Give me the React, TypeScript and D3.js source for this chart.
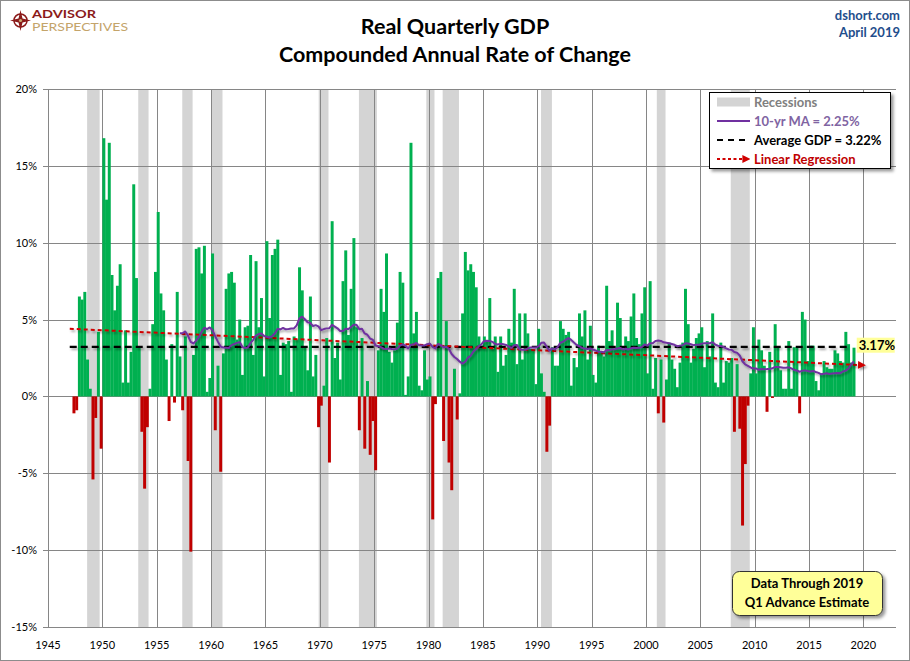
import { useEffect, useRef } from 'react';
import * as d3 from 'd3';

// Real GDP, % change at compounded annual rate, quarterly from 1947 Q2 to 2019 Q1
const gdp1940s = [-1.1, -0.9, 6.5, 6.3, 6.8, 2.4, 0.5, -5.4, -1.4, 4.2, -3.4];
const gdp1950s = [
  16.8, 12.8, 16.5, 7.9, 5.6, 7.2, 8.6, 0.9, 4.3, 0.9, 2.9, 13.8,
  7.7, 3.2, -2.3, -6.0, -2.0, 0.5, 4.7, 8.1, 12.0, 6.7, 5.6, 2.4,
  -1.6, 3.4, -0.4, 6.8, 2.6, -0.9, 3.9, -4.2, -10.1, 2.7, 9.6, 9.7,
  8.0, 9.8, 0.3, 1.2,
];
const gdp1960s = [
  9.3, -2.2, 2.0, -4.9, 2.8, 7.0, 8.0, 8.1, 7.4, 3.7, 5.0, 1.4,
  4.5, 4.6, 9.2, 2.7, 8.8, 4.5, 6.4, 1.3, 10.1, 5.1, 9.2, 9.6,
  10.2, 1.4, 3.5, 3.4, 3.6, 0.3, 3.9, 3.7, 8.4, 6.9, 3.2, 1.7,
  6.5, 1.3, 2.7, -2.0,
];
const gdp1970s = [
  -0.6, 0.7, 3.8, -4.3, 11.4, 2.5, 3.5, 1.1, 7.5, 9.5, 4.0, 7.0,
  10.3, 4.5, -2.2, 3.8, -3.4, 1.0, -3.8, -1.6, -4.8, 3.0, 7.0, 5.5,
  9.3, 2.9, 2.2, 3.0, 4.8, 8.1, 7.4, 0.1, 1.3, 16.5, 4.1, 5.5,
  0.7, 0.4, 3.0, 1.1,
];
const gdp1980s = [
  1.3, -8.0, -0.5, 7.7, 8.1, -2.9, 4.9, -4.3, -6.1, 1.8, -1.5, 0.2,
  5.4, 9.4, 8.2, 8.6, 8.1, 7.1, 3.9, 3.3, 3.9, 3.6, 6.4, 3.1,
  3.9, 1.6, 3.9, 2.0, 2.7, 4.4, 3.5, 7.0, 2.1, 5.4, 2.4, 5.4,
  4.1, 3.1, 3.0, 0.8,
];
const gdp1990s = [
  4.4, 1.5, 0.3, -3.6, -1.9, 3.2, 2.0, 2.0, 4.9, 4.4, 4.0, 4.2,
  0.7, 2.5, 1.9, 5.4, 3.9, 5.6, 2.4, 4.6, 1.4, 0.9, 3.3, 2.9,
  2.6, 7.2, 3.6, 4.3, 3.1, 6.1, 5.1, 3.1, 3.9, 3.6, 5.2, 6.7,
  3.8, 3.4, 5.4, 7.1,
];
const gdp2000s = [
  1.5, 7.5, 0.5, 2.5, -1.1, 2.4, -1.7, 1.1, 3.5, 2.4, 1.8, 0.6,
  2.2, 3.5, 7.0, 4.7, 2.2, 3.1, 3.8, 4.1, 4.5, 1.9, 3.6, 2.6,
  5.4, 0.9, 0.6, 3.5, 0.9, 2.3, 2.2, 2.5, -2.3, 2.1, -2.1, -8.4,
  -4.4, -0.6, 1.5, 4.5,
];
const gdp2010s = [
  1.5, 3.7, 3.0, 2.0, -1.0, 2.9, -0.1, 4.7, 3.2, 1.7, 0.5, 0.5,
  3.6, 0.5, 3.2, 3.2, -1.1, 5.5, 5.0, 2.3, 3.3, 3.3, 1.0, 0.4,
  1.5, 2.3, 1.9, 1.8, 1.8, 3.0, 2.8, 2.3, 2.2, 4.2, 3.4, 2.2,
  3.17,
];
const firstQuarter = 1947.25;

// recession bands as drawn (decimal years)
const recessionStart = [1948.6, 1953.3, 1957.35, 1960.05, 1969.9, 1973.6, 1979.8, 1981.3, 1990.35, 2001.0, 2007.8];
const recessionEnd = [1949.75, 1954.25, 1958.3, 1961.05, 1970.8, 1975.25, 1980.55, 1982.8, 1991.35, 2001.8, 2009.55];

const xTicks = [1945, 1950, 1955, 1960, 1965, 1970, 1975, 1980, 1985, 1990, 1995, 2000, 2005, 2010, 2015, 2020];
const yTicks = [20, 15, 10, 5, 0, -5, -10, -15];

const averageGdp = 3.22;
const maLabel = '2.25%';
const maWindow = 40;
const lineStart = 1947;
const averageEnd = 2018.5;
const regressionEnd = 2020.2;

export default function App() {
  const svgRef = useRef<SVGSVGElement>(null);

  useEffect(() => {
    const svg = d3.select(svgRef.current);
    svg.selectAll('*').remove();

    const W = 910;
    const H = 661;
    const font = 'Lato, "Open Sans", sans-serif';
    const green = '#00B050';
    const red = '#C00000';
    const purple = '#7030A0';
    const gridColor = '#868686';

    const values = [...gdp1940s, ...gdp1950s, ...gdp1960s, ...gdp1970s, ...gdp1980s, ...gdp1990s, ...gdp2000s, ...gdp2010s];
    const quarters = values.map((v, i) => ({ date: firstQuarter + i * 0.25, value: v }));

    const x = d3.scaleLinear().domain([1945, 2023]).range([48, 896]);
    const y = d3.scaleLinear().domain([-15, 20]).range([627, 89]);
    const crisp = (v: number) => Math.round(v) + 0.5;

    // defs
    const defs = svg.append('defs');
    const shadow = defs.append('filter').attr('id', 'shadow')
      .attr('filterUnits', 'userSpaceOnUse')
      .attr('x', 0).attr('y', 0).attr('width', W).attr('height', H);
    shadow.append('feDropShadow').attr('dx', 1.5).attr('dy', 2).attr('stdDeviation', 1.3)
      .attr('flood-color', '#000').attr('flood-opacity', 0.35);
    const boxShadow = defs.append('filter').attr('id', 'boxShadow')
      .attr('filterUnits', 'userSpaceOnUse')
      .attr('x', 0).attr('y', 0).attr('width', W).attr('height', H);
    boxShadow.append('feDropShadow').attr('dx', 2.5).attr('dy', 2.5).attr('stdDeviation', 1.5)
      .attr('flood-color', '#000').attr('flood-opacity', 0.4);
    defs.append('marker')
      .attr('id', 'arrow')
      .attr('viewBox', '0 0 10 10')
      .attr('refX', 2).attr('refY', 5)
      .attr('markerUnits', 'userSpaceOnUse')
      .attr('markerWidth', 8).attr('markerHeight', 8)
      .attr('orient', 'auto')
      .append('path').attr('d', 'M0,0 L10,5 L0,10 Z').attr('fill', '#D00000');

    // background + frame
    svg.append('rect').attr('x', 0.5).attr('y', 0.5).attr('width', W - 1).attr('height', H - 1)
      .attr('fill', '#fff').attr('stroke', '#8c8c8c');

    // recession bands
    svg.append('g').selectAll('rect')
      .data(recessionStart.map((s, i) => [s, recessionEnd[i]]))
      .join('rect')
      .attr('x', d => x(d[0]))
      .attr('width', d => x(d[1]) - x(d[0]))
      .attr('y', y(20))
      .attr('height', y(-15) - y(20))
      .attr('fill', '#D4D4D4');

    // gridlines
    const grid = svg.append('g').attr('stroke', gridColor).attr('stroke-width', 1);
    grid.selectAll('.h').data(yTicks).join('line').attr('class', 'h')
      .attr('x1', 43).attr('x2', 896)
      .attr('y1', d => crisp(y(d))).attr('y2', d => crisp(y(d)));
    grid.selectAll('.v').data(xTicks).join('line').attr('class', 'v')
      .attr('x1', d => crisp(x(d))).attr('x2', d => crisp(x(d)))
      .attr('y1', y(20)).attr('y2', y(-15));

    // bars
    const bw = x(firstQuarter + 0.25) - x(firstQuarter);
    svg.append('g').selectAll('rect')
      .data(quarters)
      .join('rect')
      .attr('x', d => x(d.date))
      .attr('width', bw + 0.25)
      .attr('y', d => y(Math.max(0, d.value)))
      .attr('height', d => Math.abs(y(d.value) - y(0)))
      .attr('fill', d => (d.value >= 0 ? green : red));

    // average line
    svg.append('line')
      .attr('x1', x(lineStart)).attr('x2', x(averageEnd))
      .attr('y1', y(averageGdp)).attr('y2', y(averageGdp))
      .attr('stroke', '#000').attr('stroke-width', 2.2)
      .attr('stroke-dasharray', '7,4')
      .attr('filter', 'url(#shadow)');

    // linear regression
    const mx = d3.mean(quarters, d => d.date)!;
    const my = d3.mean(quarters, d => d.value)!;
    const slope = d3.sum(quarters, d => (d.date - mx) * (d.value - my)) / d3.sum(quarters, d => (d.date - mx) ** 2);
    const reg = (t: number) => my + slope * (t - mx);
    svg.append('line')
      .attr('x1', x(lineStart)).attr('y1', y(reg(lineStart)))
      .attr('x2', x(regressionEnd) - 6).attr('y2', y(reg(regressionEnd)))
      .attr('stroke', '#D00000').attr('stroke-width', 2)
      .attr('stroke-dasharray', '4,3')
      .attr('marker-end', 'url(#arrow)')
      .attr('filter', 'url(#shadow)');

    // 10-yr moving average
    const ma = quarters.slice(maWindow - 1).map((d, i) => ({
      date: d.date,
      value: d3.mean(values.slice(i, i + maWindow))!,
    }));
    const maLine = d3.line<{ date: number; value: number }>()
      .x(d => x(d.date + 0.125))
      .y(d => y(d.value));
    svg.append('path')
      .datum(ma)
      .attr('d', maLine)
      .attr('fill', 'none')
      .attr('stroke', purple)
      .attr('stroke-width', 2)
      .attr('stroke-linejoin', 'round')
      .attr('filter', 'url(#shadow)');

    // last value label
    const last = quarters[quarters.length - 1];
    const lx = x(last.date + 0.25) + 1.5;
    const ly = y(last.value) - 2;
    svg.append('rect').attr('x', lx).attr('y', ly - 8).attr('width', 38).attr('height', 15).attr('fill', '#FFFF99');
    svg.append('text').attr('x', lx + 2).attr('y', ly + 4.5)
      .style('font-family', font).style('font-size', '13px').style('font-weight', 'bold').style('fill', '#000')
      .text(`${last.value.toFixed(2)}%`);

    // axes labels
    svg.append('g').selectAll('text').data(yTicks).join('text')
      .attr('x', 37).attr('y', d => y(d) + 4)
      .attr('text-anchor', 'end')
      .style('font-family', font).style('font-size', '11px').style('fill', '#000')
      .text(d => `${d}%`);
    svg.append('g').selectAll('text').data(xTicks).join('text')
      .attr('x', d => x(d)).attr('y', 649)
      .attr('text-anchor', 'middle')
      .style('font-family', font).style('font-size', '11px').style('fill', '#000')
      .text(d => d);

    // titles
    const title = svg.append('g').style('font-family', font).style('font-weight', 'bold').style('fill', '#000');
    title.append('text').attr('x', 455).attr('y', 34).attr('text-anchor', 'middle').style('font-size', '21.5px').text('Real Quarterly GDP');
    title.append('text').attr('x', 455).attr('y', 62).attr('text-anchor', 'middle').style('font-size', '21.5px').text('Compounded Annual Rate of Change');

    const src = svg.append('g').style('font-family', font).style('font-weight', 'bold').style('fill', '#1F4E8C').style('font-size', '13px');
    src.append('text').attr('x', 900).attr('y', 20).attr('text-anchor', 'end').text('dshort.com');
    src.append('text').attr('x', 900).attr('y', 37).attr('text-anchor', 'end').text('April 2019');

    // logo
    const logo = svg.append('g');
    logo.append('circle').attr('cx', 20.5).attr('cy', 20.5).attr('r', 6.5).attr('fill', 'none').attr('stroke', '#8B1A1A').attr('stroke-width', 1.5);
    logo.append('path')
      .attr('d', 'M20.5,10 L22.5,18.5 L31,20.5 L22.5,22.5 L20.5,31 L18.5,22.5 L10,20.5 L18.5,18.5 Z')
      .attr('fill', '#8B1A1A');
    logo.append('circle').attr('cx', 20.5).attr('cy', 20.5).attr('r', 1.6).attr('fill', '#C9A96E');
    logo.append('text').attr('x', 32).attr('y', 17.5).attr('textLength', 64).attr('lengthAdjust', 'spacingAndGlyphs')
      .style('font-family', font).style('font-weight', 'bold').style('font-size', '11.5px').style('fill', '#8B1A1A')
      .text('ADVISOR');
    logo.append('text').attr('x', 32).attr('y', 31).attr('textLength', 96).attr('lengthAdjust', 'spacingAndGlyphs')
      .style('font-family', font).style('font-size', '10.5px').style('fill', '#C4A46A')
      .text('PERSPECTIVES');

    // legend
    const lg = svg.append('g').style('font-family', font).style('font-size', '13px').style('font-weight', 'bold');
    lg.append('rect').attr('x', 709.5).attr('y', 92.5).attr('width', 181).attr('height', 76)
      .attr('fill', '#fff').attr('stroke', '#000').attr('filter', 'url(#boxShadow)');
    const rows = [102, 121, 140, 159];
    lg.append('rect').attr('x', 717).attr('y', rows[0] - 4.5).attr('width', 33).attr('height', 9).attr('fill', '#D4D4D4');
    lg.append('line').attr('x1', 717).attr('x2', 750).attr('y1', rows[1]).attr('y2', rows[1]).attr('stroke', purple).attr('stroke-width', 2);
    lg.append('line').attr('x1', 717).attr('x2', 750).attr('y1', rows[2]).attr('y2', rows[2])
      .attr('stroke', '#000').attr('stroke-width', 2.2).attr('stroke-dasharray', '6,5');
    lg.append('line').attr('x1', 717).attr('x2', 744).attr('y1', rows[3]).attr('y2', rows[3])
      .attr('stroke', '#D00000').attr('stroke-width', 2).attr('stroke-dasharray', '3,2.5').attr('marker-end', 'url(#arrow)');
    const labels = [
      { text: 'Recessions', color: '#808080' },
      { text: `10-yr MA = ${maLabel}`, color: '#8064A2' },
      { text: `Average GDP = ${averageGdp.toFixed(2)}%`, color: '#000' },
      { text: 'Linear Regression', color: '#C00000' },
    ];
    labels.forEach((l, i) => {
      lg.append('text').attr('x', 754).attr('y', rows[i] + 4.5).style('fill', l.color).text(l.text);
    });

    // note box
    const note = svg.append('g').style('font-family', font).style('font-size', '13px').style('font-weight', 'bold');
    note.append('rect').attr('x', 732.5).attr('y', 571.5).attr('width', 150).attr('height', 44).attr('rx', 7)
      .attr('fill', '#FFFF99').attr('stroke', '#333').attr('filter', 'url(#boxShadow)');
    note.append('text').attr('x', 807).attr('y', 588).attr('text-anchor', 'middle').text('Data Through 2019');
    note.append('text').attr('x', 807).attr('y', 607).attr('text-anchor', 'middle').text('Q1 Advance Estimate');
  }, []);

  return (
    <svg
      ref={svgRef}
      width={910}
      height={661}
      style={{ position: 'absolute', left: 0, top: 0 }}
    />
  );
}
